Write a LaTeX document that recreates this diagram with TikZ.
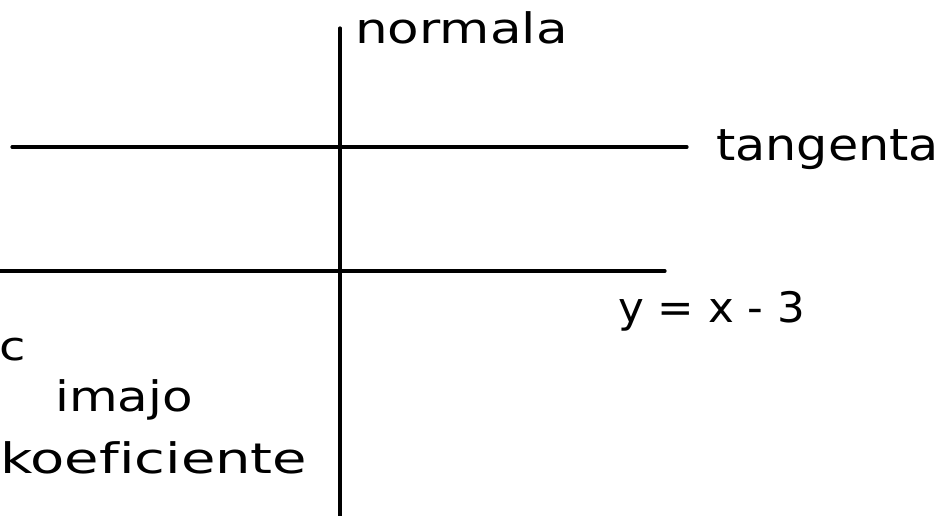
\documentclass[tikz,border=0pt]{standalone}
\usepackage{fontspec}
\setmainfont[Ligatures=NoCommon]{DejaVu Sans}
\begin{document}
\begin{tikzpicture}[x=1pt,y=-1pt,
  ln/.style={line width=3.2pt,line cap=round},
  hw/.style={inner sep=0pt,font=\fontsize{40}{40}\selectfont}]
\useasboundingbox (0,0) rectangle (940,515);
\begin{scope}
\clip (0,0) rectangle (940,515);
\coordinate (vt) at (340,28);
\coordinate (vb) at (340,520);
\coordinate (t1) at (12,147);
\coordinate (t2) at (687,147);
\coordinate (l1) at (-5,271);
\coordinate (l2) at (665,271);
\draw[ln] (vt) -- (vb);
\draw[ln] (t1) -- (t2);
\draw[ln] (l1) -- (l2);
\node[hw,anchor=west] (nor) at (355,28) {\scalebox{1.29}[1.05]{normala}};
\node[hw,anchor=west] (tan) at (716,150) {\scalebox{1.23}[1.1]{tangenta}};
\node[hw,anchor=west] (eq) at (618,311) {\scalebox{1.09}[1.05]{y = x - 3}};
\node[hw,anchor=east] (c) at (26,350) {\scalebox{1.2}[1]{c}};
\node[hw,anchor=west] (im) at (55,400) {\scalebox{1.25}[1.05]{imajo}};
\node[hw,anchor=west] (ko) at (0,458) {\scalebox{1.4}[1.05]{koeficiente}};
\end{scope}
\end{tikzpicture}
\end{document}
